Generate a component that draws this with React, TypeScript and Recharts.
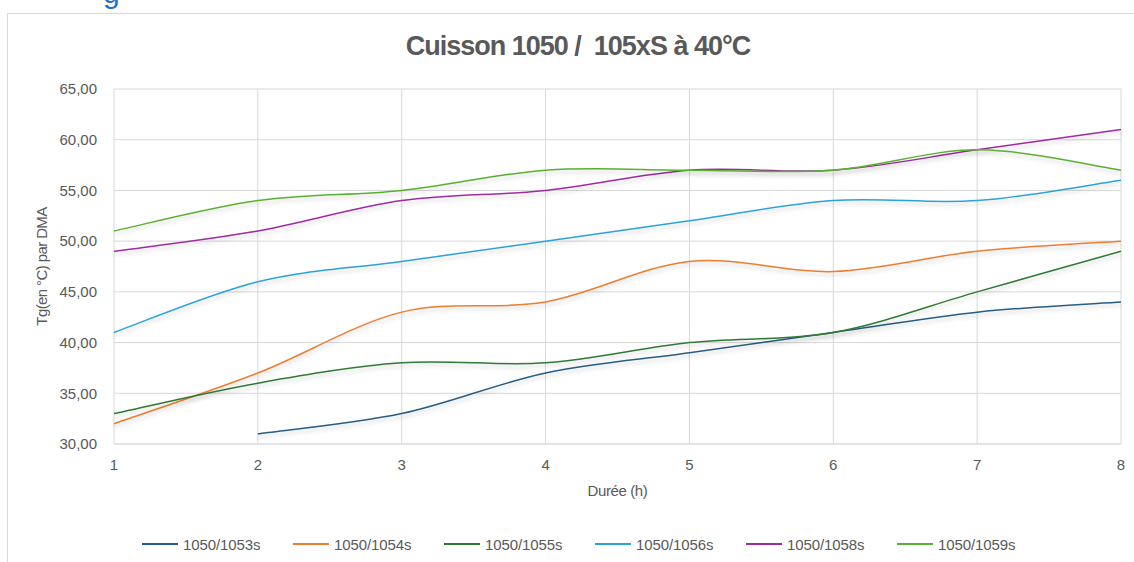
import React from 'react'
import { LineChart, Line, XAxis, YAxis, CartesianGrid } from 'recharts'

const hours = [1, 2, 3, 4, 5, 6, 7, 8]
const s1053 = [null, 31, 33, 37, 39, 41, 43, 44]
const s1054 = [32, 37, 43, 44, 48, 47, 49, 50]
const s1055 = [33, 36, 38, 38, 40, 41, 45, 49]
const s1056 = [41, 46, 48, 50, 52, 54, 54, 56]
const s1058 = [49, 51, 54, 55, 57, 57, 59, 61]
const s1059 = [51, 54, 55, 57, 57, 57, 59, 57]
const yTicks = [30, 35, 40, 45, 50, 55, 60, 65]

const series = [
  { key: 's1053', name: '1050/1053s', color: '#275d87', values: s1053 },
  { key: 's1054', name: '1050/1054s', color: '#ed7d31', values: s1054 },
  { key: 's1055', name: '1050/1055s', color: '#2f7a35', values: s1055 },
  { key: 's1056', name: '1050/1056s', color: '#2ba2dd', values: s1056 },
  { key: 's1058', name: '1050/1058s', color: '#a02c9f', values: s1058 },
  { key: 's1059', name: '1050/1059s', color: '#5bb032', values: s1059 },
]

const data = hours.map((h, i) => {
  const row: Record<string, number | null> = { x: h }
  series.forEach((s) => {
    row[s.key] = s.values[i]
  })
  return row
})

// Excel-style smoothing (uniform Catmull-Rom)
function smoothCurve(context: any) {
  let pts: number[][] = []
  return {
    areaStart() {},
    areaEnd() {},
    lineStart() {
      pts = []
    },
    point(x: number, y: number) {
      pts.push([+x, +y])
    },
    lineEnd() {
      if (!pts.length) return
      context.moveTo(pts[0][0], pts[0][1])
      for (let i = 0; i < pts.length - 1; i++) {
        const p0 = pts[i - 1] || pts[i]
        const p1 = pts[i]
        const p2 = pts[i + 1]
        const p3 = pts[i + 2] || p2
        context.bezierCurveTo(
          p1[0] + (p2[0] - p0[0]) / 6,
          p1[1] + (p2[1] - p0[1]) / 6,
          p2[0] - (p3[0] - p1[0]) / 6,
          p2[1] - (p3[1] - p1[1]) / 6,
          p2[0],
          p2[1]
        )
      }
    },
  }
}

const fmt = (v: number) => v.toFixed(2).replace('.', ',')
const font = '"Liberation Sans", Arial, sans-serif'

export default function App() {
  return (
    <div style={{ position: 'absolute', left: 0, top: 0, width: 1134, height: 562, overflow: 'hidden', background: '#fff', fontFamily: font }}>
      <style>{`.recharts-line-curve{filter:drop-shadow(0px 3px 2px rgba(0,0,0,0.18));}`}</style>
      <div style={{ position: 'absolute', left: 103, top: -24, fontSize: 30, color: '#1f6fc5' }}>g</div>
      <div style={{ position: 'absolute', left: 7, top: 13, width: 1150, height: 600, border: '1px solid #d9d9d9' }} />
      <div style={{ position: 'absolute', left: 0, top: 31, width: 1156, textAlign: 'center', fontSize: 27, fontWeight: 'bold', color: '#595959', letterSpacing: -1.0, whiteSpace: 'pre' }}>
        {'Cuisson 1050 /  105xS à 40°C'}
      </div>
      <div style={{ position: 'absolute', left: 0, top: 0 }}>
        <LineChart width={1134} height={562} data={data} margin={{ top: 89, right: 13, left: 0, bottom: 88 }}>
          <CartesianGrid stroke="#d9d9d9" strokeWidth={1} />
          <XAxis
            dataKey="x"
            type="number"
            domain={[1, 8]}
            ticks={hours}
            height={30}
            tickLine={false}
            tickSize={6}
            tickMargin={9}
            axisLine={{ stroke: '#d9d9d9' }}
            tick={{ fill: '#595959', fontSize: 15, fontFamily: font }}
            label={{ value: 'Durée (h)', position: 'bottom', offset: 11, fill: '#595959', fontSize: 15, fontFamily: font, letterSpacing: -0.4 }}
          />
          <YAxis
            type="number"
            domain={[30, 65]}
            ticks={yTicks}
            width={114}
            tickFormatter={fmt}
            tickLine={false}
            tickSize={8}
            tickMargin={9}
            axisLine={false}
            tick={{ fill: '#595959', fontSize: 15, fontFamily: font }}
            label={{ value: 'Tg(en °C) par DMA', angle: -90, position: 'insideLeft', offset: 42, fill: '#595959', fontSize: 15, fontFamily: font, letterSpacing: -0.6, style: { textAnchor: 'middle' } }}
          />
          {series.map((s) => (
            <Line
              key={s.key}
              dataKey={s.key}
              name={s.name}
              type={smoothCurve as any}
              stroke={s.color}
              strokeWidth={1.5}
              dot={false}
              activeDot={false}
              isAnimationActive={false}
            />
          ))}
        </LineChart>
      </div>
      <div style={{ position: 'absolute', left: 142, top: 535, display: 'flex', fontSize: 15, color: '#595959', letterSpacing: -0.1 }}>
        {series.map((s) => (
          <div key={s.key} style={{ display: 'flex', alignItems: 'center', width: 151, height: 18 }}>
            <div style={{ width: 36, height: 2, background: s.color, marginRight: 5 }} />
            <span>{s.name}</span>
          </div>
        ))}
      </div>
    </div>
  )
}
